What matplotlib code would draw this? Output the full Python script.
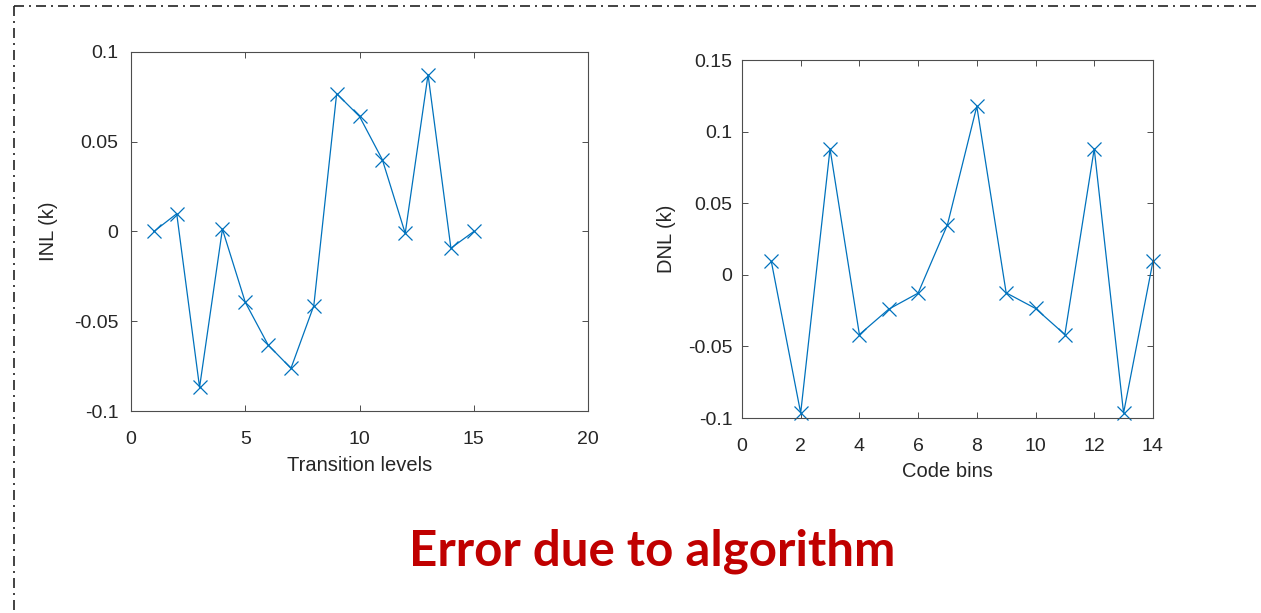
import matplotlib
matplotlib.use('Agg')
import matplotlib.pyplot as plt
from matplotlib.lines import Line2D

plt.rcParams['font.family'] = ['Liberation Sans', 'DejaVu Sans']

# INL vs transition levels
inl_x = list(range(1, 16))
inl_y = [0.0, 0.0099, -0.0868, 0.0013, -0.0394, -0.0632, -0.0762, -0.0413,
         0.0768, 0.0641, 0.040, -0.001, 0.0874, -0.0093, 0.0]

# DNL vs code bins
dnl_x = list(range(1, 15))
dnl_y = [0.0093, -0.0965, 0.088, -0.0417, -0.024, -0.0128, 0.035, 0.1177,
         -0.0126, -0.0235, -0.0417, 0.088, -0.0965, 0.0093]

inl_xticks = [0, 5, 10, 15, 20]
inl_yticks = [-0.1, -0.05, 0, 0.05, 0.1]
inl_yticklabels = ['-0.1', '-0.05', '0', '0.05', '0.1']
dnl_xticks = [0, 2, 4, 6, 8, 10, 12, 14]
dnl_yticks = [-0.1, -0.05, 0, 0.05, 0.1, 0.15]
dnl_yticklabels = ['-0.1', '-0.05', '0', '0.05', '0.1', '0.15']

line_color = '#0072BD'
text_color = '#262626'

fig = plt.figure(figsize=(12.61, 6.13), dpi=100)


def style_axes(ax, ypad):
    for s in ax.spines.values():
        s.set_color('#4d4d4d')
        s.set_linewidth(0.8)
    ax.tick_params(direction='in', top=True, right=True, length=4, width=0.7,
                   colors='#4d4d4d', labelcolor=text_color, labelsize=14)
    ax.tick_params(axis='x', pad=14.5)
    ax.tick_params(axis='y', pad=ypad)


ax1 = fig.add_axes([0.1039, 0.3295, 0.3624, 0.5857])
ax1.plot(inl_x, inl_y, color=line_color, lw=0.9, marker='x', ms=10, mew=0.9)
ax1.set_xlim(0, 20)
ax1.set_ylim(-0.1, 0.1)
ax1.set_xticks(inl_xticks)
ax1.set_yticks(inl_yticks)
ax1.set_yticklabels(inl_yticklabels)
ax1.set_xlabel('Transition levels', fontsize=14.5, color=text_color, va='center')
ax1.set_ylabel('INL (k)', fontsize=14.5, color=text_color, va='center')
ax1.xaxis.set_label_coords(0.5, -0.153)
ax1.yaxis.set_label_coords(-0.18, 0.5)
style_axes(ax1, 9)

ax2 = fig.add_axes([0.5884, 0.3181, 0.3259, 0.5840])
ax2.plot(dnl_x, dnl_y, color=line_color, lw=0.9, marker='x', ms=10, mew=0.9,
         clip_on=False)
ax2.set_xlim(0, 14)
ax2.set_ylim(-0.1, 0.15)
ax2.set_xticks(dnl_xticks)
ax2.set_yticks(dnl_yticks)
ax2.set_yticklabels(dnl_yticklabels)
ax2.set_xlabel('Code bins', fontsize=14.5, color=text_color, va='center')
ax2.set_ylabel('DNL (k)', fontsize=14.5, color=text_color, va='center')
ax2.xaxis.set_label_coords(0.5, -0.15)
ax2.yaxis.set_label_coords(-0.1825, 0.5)
style_axes(ax2, 7)

# dash-dot frame at top and left
frame_style = (0, (6, 3, 1.2, 3))
fig.add_artist(Line2D([14 / 1261, 1.0], [1 - 6 / 613, 1 - 6 / 613],
                      transform=fig.transFigure, color='#222222', lw=1.2,
                      linestyle=frame_style))
fig.add_artist(Line2D([14 / 1261, 14 / 1261], [1 - 6 / 613, 0.0],
                      transform=fig.transFigure, color='#222222', lw=1.2,
                      linestyle=frame_style))

fig.text(652 / 1261, 1 - 551 / 613, 'Error due to algorithm', ha='center',
         va='center', fontsize=35.5, fontweight='bold', color='#C00000',
         family=['Lato', 'DejaVu Sans'])

fig.savefig('out.png', dpi=100)
